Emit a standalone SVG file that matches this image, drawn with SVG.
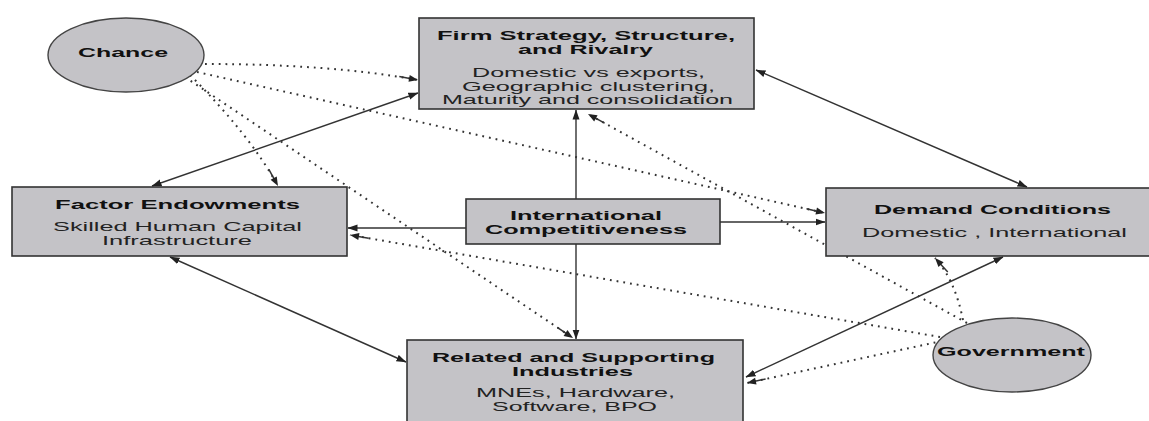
<svg xmlns="http://www.w3.org/2000/svg" width="1149" height="421" viewBox="0 0 1149 421">
<style>
.box{fill:#c4c3c7;stroke:#333;stroke-width:1.6}
.oval{fill:#c4c3c7;stroke:#444;stroke-width:1.4}
.t{font-family:"Liberation Sans",Arial,sans-serif;font-size:13px;font-weight:bold;fill:#111}
.b{font-family:"Liberation Sans",Arial,sans-serif;font-size:13px;fill:#222}
.s{fill:none;stroke:#333;stroke-width:1.4}
.d{fill:none;stroke:#333;stroke-width:2;stroke-dasharray:1.8 5}
</style>
<defs>
<marker id="ah" markerUnits="userSpaceOnUse" markerWidth="10" markerHeight="8" viewBox="0 0 10 8" refX="9.5" refY="4" orient="auto-start-reverse">
<path d="M0,0.5 L10,4 L0,7.5 z" fill="#222"/>
</marker>
<marker id="dh" markerUnits="userSpaceOnUse" markerWidth="22" markerHeight="10" viewBox="0 0 22 10" refX="21" refY="5" orient="auto" overflow="visible">
<path d="M2,5 L14,5" stroke="#333" stroke-width="1.5"/>
<path d="M12,1.5 L21,5 L12,8.5 z" fill="#222"/>
</marker>
</defs>
<g id="connectors">
<path class="s" d="M152,186 L418,93" marker-start="url(#ah)" marker-end="url(#ah)"/>
<path class="s" d="M756,70 L1027,187" marker-start="url(#ah)" marker-end="url(#ah)"/>
<path class="s" d="M170,257 L406,362" marker-start="url(#ah)" marker-end="url(#ah)"/>
<path class="s" d="M1003,257 L746,377" marker-start="url(#ah)" marker-end="url(#ah)"/>
<path class="s" d="M576,199 L576,110" marker-end="url(#ah)"/>
<path class="s" d="M576,244 L576,339" marker-end="url(#ah)"/>
<path class="s" d="M466,228 L348,228" marker-end="url(#ah)"/>
<path class="s" d="M720,222 L825,222" marker-end="url(#ah)"/>
<path class="d" d="M205,64 Q330,64 418,80" marker-end="url(#dh)"/>
<path class="d" d="M197,72 L825,213" marker-end="url(#dh)"/>
<path class="d" d="M190,75 Q250,135 278,186" marker-end="url(#dh)"/>
<path class="d" d="M185,77 L573,338" marker-end="url(#dh)"/>
<path class="d" d="M940,337 L350,235" marker-end="url(#dh)"/>
<path class="d" d="M967,323 L588,114" marker-end="url(#dh)"/>
<path class="d" d="M963,320 Q955,280 935,258" marker-end="url(#dh)"/>
<path class="d" d="M942,341 L747,383" marker-end="url(#dh)"/>
</g>
<g id="chance">
<ellipse class="oval" cx="126" cy="55" rx="78" ry="37"/>
<text class="t" x="78" y="57" textLength="90" lengthAdjust="spacingAndGlyphs">Chance</text>
</g>
<g id="firm">
<rect class="box" x="419" y="18" width="335" height="91"/>
<text class="t" x="437" y="40" textLength="298" lengthAdjust="spacingAndGlyphs">Firm Strategy, Structure,</text>
<text class="t" x="518" y="54" textLength="135" lengthAdjust="spacingAndGlyphs">and Rivalry</text>
<text class="b" x="472" y="77" textLength="233" lengthAdjust="spacingAndGlyphs">Domestic vs exports,</text>
<text class="b" x="462" y="90.5" textLength="253" lengthAdjust="spacingAndGlyphs">Geographic clustering,</text>
<text class="b" x="442" y="104" textLength="291" lengthAdjust="spacingAndGlyphs">Maturity and consolidation</text>
</g>
<g id="factor">
<rect class="box" x="12" y="187" width="335" height="69"/>
<text class="t" x="55" y="209" textLength="245" lengthAdjust="spacingAndGlyphs">Factor Endowments</text>
<text class="b" x="53" y="231" textLength="249" lengthAdjust="spacingAndGlyphs">Skilled Human Capital</text>
<text class="b" x="102" y="245" textLength="150" lengthAdjust="spacingAndGlyphs">Infrastructure</text>
</g>
<g id="intl">
<rect class="box" x="466" y="199" width="254" height="45"/>
<text class="t" x="510" y="220" textLength="152" lengthAdjust="spacingAndGlyphs">International</text>
<text class="t" x="485" y="234" textLength="202" lengthAdjust="spacingAndGlyphs">Competitiveness</text>
</g>
<g id="demand">
<rect class="box" x="826" y="188" width="330" height="68"/>
<text class="t" x="874" y="214" textLength="237" lengthAdjust="spacingAndGlyphs">Demand Conditions</text>
<text class="b" x="862" y="237" textLength="265" lengthAdjust="spacingAndGlyphs">Domestic , International</text>
</g>
<g id="related">
<rect class="box" x="407" y="340" width="336" height="95"/>
<text class="t" x="432" y="361.5" textLength="283" lengthAdjust="spacingAndGlyphs">Related and Supporting</text>
<text class="t" x="512" y="375.5" textLength="121" lengthAdjust="spacingAndGlyphs">Industries</text>
<text class="b" x="476" y="397" textLength="199" lengthAdjust="spacingAndGlyphs">MNEs, Hardware,</text>
<text class="b" x="492" y="411" textLength="165" lengthAdjust="spacingAndGlyphs">Software, BPO</text>
</g>
<g id="government">
<ellipse class="oval" cx="1012" cy="355" rx="79" ry="37"/>
<text class="t" x="937" y="356" textLength="148" lengthAdjust="spacingAndGlyphs">Government</text>
</g>
</svg>
